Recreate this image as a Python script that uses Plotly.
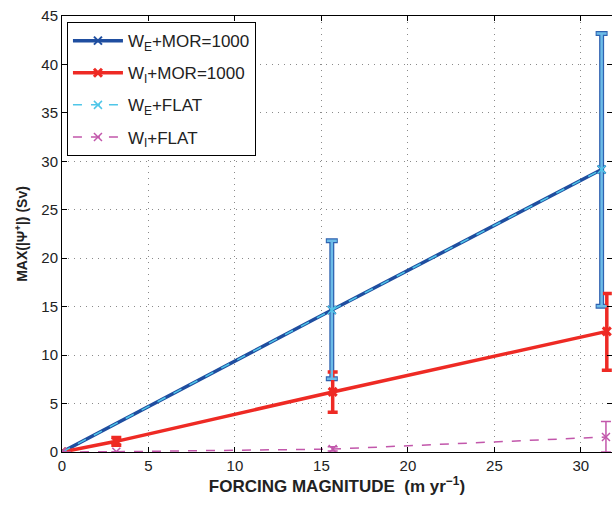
import plotly.graph_objects as go

# ---- data ----
x_we_mor = [0.0, 15.6, 31.2]
y_we_mor = [0.0, 14.65, 29.15]
err_we_plus = [0.0, 7.15, 14.05]
err_we_minus = [0.0, 7.1, 14.1]

x_wi_mor = [0.0, 3.14, 15.65, 31.5]
y_wi_mor = [0.0, 1.1, 6.2, 12.45]
err_wi_plus = [0.0, 0.4, 2.05, 3.9]
err_wi_minus = [0.0, 0.4, 2.1, 4.0]

x_we_flat = [0.0, 15.6, 31.2]
y_we_flat = [0.0, 14.65, 29.15]

x_wi_flat = [0.0, 3.14, 15.65, 31.45]
y_wi_flat = [0.0, 0.03, 0.3, 1.55]
err_wif_plus = [0.0, 0.0, 0.25, 1.6]
err_wif_minus = [0.0, 0.0, 0.2, 1.55]

x_ticks = [0, 5, 10, 15, 20, 25, 30]
y_ticks = [0, 5, 10, 15, 20, 25, 30, 35, 40, 45]

names = ["W<sub>E</sub>+MOR=1000", "W<sub>I</sub>+MOR=1000",
         "W<sub>E</sub>+FLAT", "W<sub>I</sub>+FLAT"]

BLUE = "#1f4ea0"
RED = "#ee2a24"
CYAN = "#4fc6e8"
MAG = "#c257ab"

fig = go.Figure()

fig.add_trace(go.Scatter(
    x=x_we_mor, y=y_we_mor, name=names[0], mode="lines+markers", legendgroup="a",
    line=dict(color=BLUE, width=3.5),
    marker=dict(symbol="x-thin", size=8, line=dict(color=BLUE, width=2)),
    error_y=dict(type="data", symmetric=False, array=err_we_plus,
                 arrayminus=err_we_minus, color="#2f62b0", thickness=5, width=6),
))
fig.add_trace(go.Scatter(
    x=x_wi_mor, y=y_wi_mor, name=names[1], mode="lines+markers", legendgroup="b",
    line=dict(color=RED, width=3.5),
    marker=dict(symbol="x-thin", size=8, line=dict(color=RED, width=3)),
    error_y=dict(type="data", symmetric=False, array=err_wi_plus,
                 arrayminus=err_wi_minus, color=RED, thickness=3.5, width=5),
))
fig.add_trace(go.Scatter(
    x=x_we_flat, y=y_we_flat, name=names[2], mode="lines+markers", legendgroup="c",
    line=dict(color=CYAN, width=1.5, dash="dash"),
    marker=dict(symbol="x-thin", size=8, line=dict(color=CYAN, width=1.5)),
    error_y=dict(type="data", symmetric=False, array=err_we_plus,
                 arrayminus=err_we_minus, color="#6cbce8", thickness=2.5, width=5),
))
fig.add_trace(go.Scatter(
    x=x_wi_flat, y=y_wi_flat, name=names[3], mode="lines+markers", legendgroup="d",
    line=dict(color=MAG, width=1.5, dash="dash"),
    marker=dict(symbol="x-thin", size=8, line=dict(color=MAG, width=1.5)),
    error_y=dict(type="data", symmetric=False, array=err_wif_plus,
                 arrayminus=err_wif_minus, color=MAG, thickness=1.5, width=5),
))

axis_common = dict(
    showline=True, linecolor="black", linewidth=1, mirror="ticks",
    ticks="inside", ticklen=5, tickcolor="black",
    showgrid=True, gridcolor="#8a8a8a", griddash="1px,5px", gridwidth=1,
    zeroline=False, ticklabeloverflow="allow",
    tickfont=dict(family="Liberation Sans, Arial", size=15, color="#222"),
)

fig.update_xaxes(
    range=[0, 31.8], tickvals=x_ticks,
    title=dict(text="<b>FORCING MAGNITUDE  (m yr<sup>−1</sup>)</b>",
               font=dict(family="Liberation Sans, Arial", size=17, color="#222"),
               standoff=6),
    **axis_common,
)
fig.update_yaxes(
    range=[0, 45], tickvals=y_ticks,
    title=dict(text="<b>MAX(|Ψ<sup>+</sup>|) (Sv)</b>",
               font=dict(family="Liberation Sans, Arial", size=14, color="#222"),
               standoff=10),
    **axis_common,
)

fig.update_layout(
    width=612, height=507,
    margin=dict(l=62, r=0, t=16, b=55, autoexpand=False),
    paper_bgcolor="white", plot_bgcolor="white",
    showlegend=True,
    legend=dict(
        x=0.009, y=0.986, xanchor="left", yanchor="top",
        bgcolor="white", bordercolor="black", borderwidth=1,
        font=dict(family="Liberation Sans, Arial", size=17, color="#222"),
        itemwidth=50, tracegroupgap=7,
    ),
)

fig.write_html(
    "out.html",
    config={"displayModeBar": False},
    post_script="document.body.style.margin='0';document.body.style.overflow='hidden';",
)
